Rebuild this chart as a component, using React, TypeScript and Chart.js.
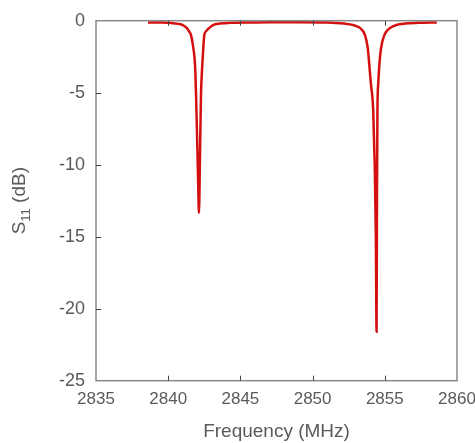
import React, { useEffect, useRef } from "react";
import { Chart, registerables } from "chart.js";

Chart.register(...registerables);

const frequency: number[] = [
  2838.6, 2839.5, 2840.2, 2840.7, 2841.02, 2841.28, 2841.45, 2841.58, 2841.74, 2841.86,
  2841.93, 2842.0, 2842.07, 2842.13, 2842.2, 2842.27, 2842.36, 2842.43, 2842.5, 2842.65,
  2842.85, 2843.1, 2843.6, 2844.3, 2845.5, 2847.0, 2849.0, 2851.0, 2852.2, 2852.8,
  2853.28, 2853.63, 2853.82, 2853.93, 2854.03, 2854.2, 2854.3, 2854.38, 2854.43, 2854.46,
  2854.49, 2854.55, 2854.62, 2854.74, 2854.97, 2855.15, 2855.36, 2855.8, 2856.4, 2857.3,
  2858.6,
];

const s11: number[] = [
  -0.12, -0.13, -0.16, -0.22, -0.3, -0.5, -0.75, -1.0, -1.9, -3.1,
  -5.2, -8.0, -11.0, -13.35, -9.5, -5.2, -3.1, -1.9, -1.0, -0.7,
  -0.5, -0.3, -0.2, -0.15, -0.12, -0.1, -0.1, -0.12, -0.2, -0.3,
  -0.5, -1.0, -1.9, -3.1, -4.3, -6.3, -10.0, -15.0, -21.6, -12.0,
  -6.3, -4.3, -3.1, -1.9, -1.0, -0.7, -0.5, -0.3, -0.2, -0.15,
  -0.12,
];

const xTicks: number[] = [2835, 2840, 2845, 2850, 2855, 2860];
const yTicks: number[] = [0, -5, -10, -15, -20, -25];

const xTitle = "Frequency (MHz)";
const yTitleMain = "S";
const yTitleSub = "11";
const yTitleRest = " (dB)";

const FONT = "'Liberation Sans', Arial, sans-serif";
const TEXT_COLOR = "#5a5a5a";
const AXIS_COLOR = "#8a8a8a";

const framePlugin = {
  id: "frameAndTitles",
  afterDraw(chart: any) {
    const { ctx, chartArea, scales } = chart;
    const { left, right, top, bottom } = chartArea;
    ctx.save();
    ctx.strokeStyle = AXIS_COLOR;
    ctx.lineWidth = 1.5;
    ctx.strokeRect(left, top, right - left, bottom - top);
    ctx.strokeStyle = "#444";
    ctx.lineWidth = 1;
    const tl = 5;
    xTicks.forEach((v) => {
      const px = Math.round(scales.x.getPixelForValue(v)) + 0.5;
      if (px <= left + 1 || px >= right - 1) return;
      ctx.beginPath();
      ctx.moveTo(px, bottom);
      ctx.lineTo(px, bottom - tl);
      ctx.moveTo(px, top);
      ctx.lineTo(px, top + tl);
      ctx.stroke();
    });
    yTicks.forEach((v) => {
      const py = Math.round(scales.y.getPixelForValue(v)) + 0.5;
      if (py <= top + 1 || py >= bottom - 1) return;
      ctx.beginPath();
      ctx.moveTo(left, py);
      ctx.lineTo(left + tl, py);
      ctx.stroke();
    });
    ctx.fillStyle = TEXT_COLOR;
    ctx.font = `19px ${FONT}`;
    ctx.textAlign = "center";
    ctx.textBaseline = "middle";
    ctx.fillText(xTitle, (left + right) / 2, 432);
    ctx.translate(20, (top + bottom) / 2);
    ctx.rotate(-Math.PI / 2);
    ctx.textAlign = "left";
    ctx.textBaseline = "middle";
    const mainFont = `19px ${FONT}`;
    const subFont = `13px ${FONT}`;
    ctx.font = mainFont;
    const w1 = ctx.measureText(yTitleMain).width;
    const w3 = ctx.measureText(yTitleRest).width;
    ctx.font = subFont;
    const w2 = ctx.measureText(yTitleSub).width;
    const total = w1 + w2 + w3;
    let x0 = -total / 2;
    ctx.font = mainFont;
    ctx.fillText(yTitleMain, x0, 0);
    x0 += w1;
    ctx.font = subFont;
    ctx.fillText(yTitleSub, x0, 6);
    x0 += w2;
    ctx.font = mainFont;
    ctx.fillText(yTitleRest, x0, 0);
    ctx.restore();
  },
};

export default function App() {
  const ref = useRef<HTMLCanvasElement | null>(null);

  useEffect(() => {
    document.body.style.margin = "0";
    if (!ref.current) return;
    const chart = new Chart(ref.current, {
      type: "line",
      data: {
        datasets: [
          {
            data: frequency.map((f, i) => ({ x: f, y: s11[i] })),
            borderColor: "#d40f0f",
            borderWidth: 2.5,
            pointRadius: 0,
            cubicInterpolationMode: "monotone",
            fill: false,
          },
        ],
      },
      options: {
        animation: false,
        responsive: false,
        maintainAspectRatio: false,
        layout: { padding: { top: 20.7, right: 18, left: 0, bottom: 0 } },
        plugins: { legend: { display: false }, tooltip: { enabled: false } },
        scales: {
          x: {
            type: "linear",
            min: 2835,
            max: 2860,
            afterBuildTicks: (axis: any) => {
              axis.ticks = xTicks.map((v) => ({ value: v }));
            },
            afterFit: (axis: any) => {
              axis.height = 443 - 380.7;
              axis.paddingLeft = 0;
              axis.paddingRight = 0;
            },
            grid: { display: false, drawTicks: false },
            border: { display: false },
            ticks: {
              color: TEXT_COLOR,
              font: { family: FONT, size: 17 },
              padding: 8,
              maxRotation: 0,
              autoSkip: false,
              callback: (v: any) => String(v),
            },
          },
          y: {
            type: "linear",
            min: -25,
            max: 0,
            afterBuildTicks: (axis: any) => {
              axis.ticks = yTicks.map((v) => ({ value: v }));
            },
            afterFit: (axis: any) => {
              axis.width = 96;
              axis.paddingTop = 0;
              axis.paddingBottom = 0;
            },
            grid: { display: false, drawTicks: false },
            border: { display: false },
            ticks: {
              color: TEXT_COLOR,
              font: { family: FONT, size: 18 },
              padding: 11,
              autoSkip: false,
              callback: (v: any) => String(v),
            },
          },
        },
      },
      plugins: [framePlugin],
    });
    return () => chart.destroy();
  }, []);

  return (
    <div style={{ position: "absolute", left: 0, top: 0, width: 475, height: 443, background: "#fff" }}>
      <canvas ref={ref} width={475} height={443} style={{ width: 475, height: 443 }} />
    </div>
  );
}
